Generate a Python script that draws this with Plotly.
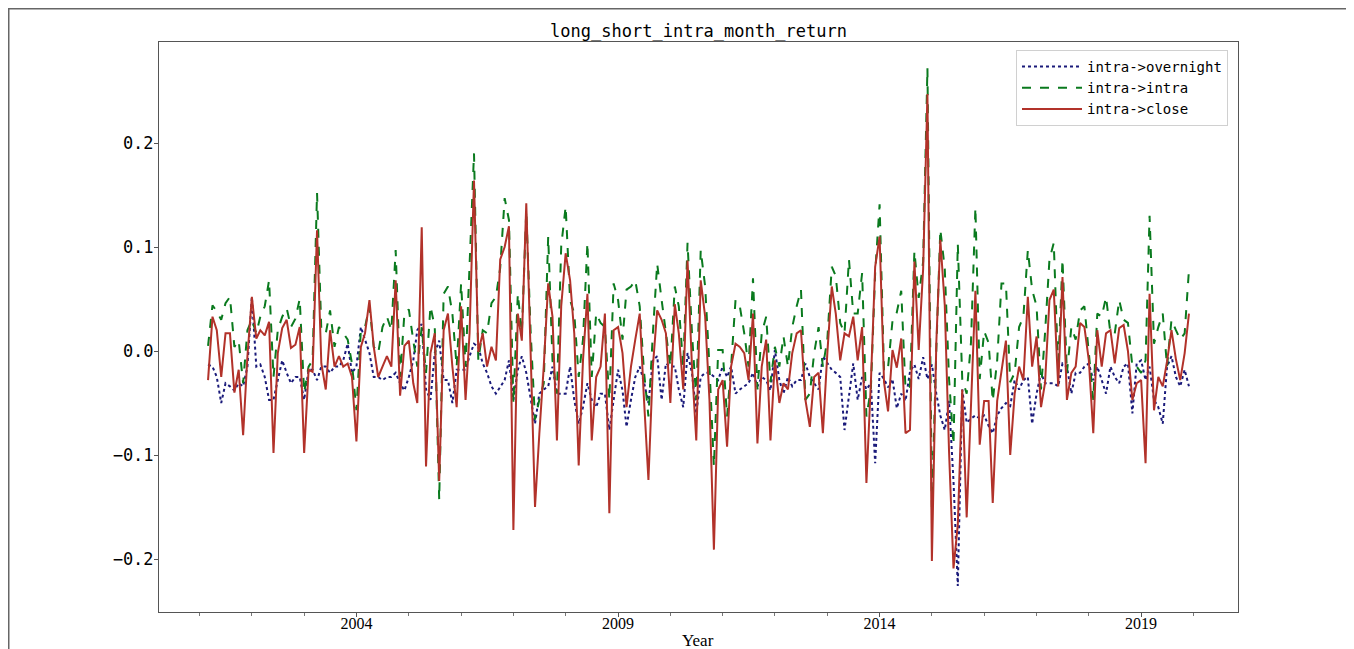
import pandas as pd
import plotly.graph_objects as go

# ---------------- data (monthly, Mar-2001 .. Dec-2019) ----------------
start_month = "2001-03-01"

overnight = [
 -0.013,-0.015,-0.025,-0.050,-0.031,-0.034,-0.038,-0.031,-0.034,-0.015,
  0.052,-0.015,-0.013,-0.025,-0.047,-0.047,-0.028,-0.009,-0.021,-0.031,
 -0.025,-0.025,-0.047,-0.018,-0.018,-0.028,-0.015,-0.015,-0.021,-0.015,
 -0.015,-0.009, 0.007,-0.021,-0.015, 0.023, 0.011,-0.002,-0.025,-0.025,
 -0.028,-0.025,-0.025,-0.021,-0.031,-0.038,-0.025,-0.009, 0.020, 0.026,
 -0.037,-0.047,-0.002, 0.010,-0.028,-0.028,-0.050,-0.018,-0.018,-0.018,
 -0.005, 0.007, 0.004,-0.012,-0.021,-0.034,-0.041,-0.034,-0.028,-0.009,
 -0.047,-0.018,-0.005,-0.021,-0.047,-0.070,-0.041,-0.037,-0.034,-0.015,
 -0.041,-0.041,-0.041,-0.015,-0.047,-0.070,-0.054,-0.031,-0.047,-0.054,
 -0.041,-0.041,-0.076,-0.047,-0.018,-0.038,-0.073,-0.047,-0.025,-0.015,
 -0.030,-0.050,-0.009,-0.005,-0.047,-0.012,-0.015,-0.015,-0.037,-0.054,
 -0.002,-0.021,-0.060,-0.025,-0.021,-0.021,-0.025,-0.028,-0.015,-0.025,
 -0.015,-0.041,-0.037,-0.034,-0.031,-0.021,-0.034,-0.025,-0.028,-0.038,
  0.001,-0.028,-0.041,-0.025,-0.034,-0.028,-0.028,-0.012,-0.025,-0.031,
 -0.037,-0.005,-0.012,-0.018,-0.021,-0.025,-0.076,-0.041,-0.012,-0.047,
 -0.025,-0.037,-0.031,-0.108,-0.021,-0.027,-0.035,-0.027,-0.055,-0.041,
 -0.048,-0.020,-0.013,-0.027,-0.006,-0.027,-0.013,-0.041,-0.062,-0.076,
 -0.048,-0.125,-0.226,-0.037,-0.069,-0.065,-0.062,-0.065,-0.062,-0.072,
 -0.079,-0.062,-0.055,-0.050,-0.053,-0.028,-0.037,-0.028,-0.025,-0.070,
 -0.041,-0.021,-0.031,-0.031,-0.031,-0.034,-0.012,-0.015,-0.041,-0.021,
 -0.021,-0.015,-0.012,-0.028,-0.015,-0.028,-0.041,-0.015,-0.025,-0.031,
 -0.015,-0.012,-0.060,-0.012,-0.009,-0.028,-0.015,-0.047,-0.054,-0.070,
 -0.015,-0.005,-0.025,-0.034,-0.018,-0.034,
]

intra = [
  0.005, 0.044, 0.038, 0.030, 0.046, 0.052, 0.004, 0.010,-0.031, 0.020,
  0.030, 0.017, 0.033, 0.043, 0.068,-0.025, 0.020, 0.033, 0.041, 0.023,
  0.031, 0.050,-0.040,-0.015,-0.009, 0.152, 0.020, 0.017, 0.039, 0.004,
  0.023, 0.017, 0.011,-0.012,-0.057, 0.020, 0.023, 0.043, 0.004,-0.002,
  0.023, 0.033, 0.020, 0.097,-0.025, 0.036, 0.040, 0.010,-0.015, 0.023,
 -0.021, 0.043, 0.023,-0.143, 0.055, 0.062, 0.036,-0.015, 0.065,-0.015,
  0.080, 0.190,-0.009, 0.020, 0.017, 0.046, 0.052, 0.080, 0.147, 0.126,
 -0.050, 0.055, 0.017, 0.135, 0.020,-0.066,-0.047,-0.031, 0.110,-0.009,
 -0.041, 0.101, 0.139, 0.049, 0.036,-0.025, 0.011, 0.104,-0.025, 0.036,
  0.027, 0.023,-0.047, 0.065, 0.049, 0.011, 0.059, 0.062, 0.068, 0.043,
 -0.020,-0.063, 0.017, 0.084, 0.049, 0.020,-0.015, 0.062, 0.043,-0.015,
  0.104, 0.017,-0.047, 0.097, 0.062,-0.015,-0.111, 0.001, 0.001,-0.063,
 -0.015, 0.049, 0.043, 0.017,-0.015, 0.070,-0.037, 0.017, 0.033,-0.030,
  0.004,-0.015, 0.014,-0.015, 0.023, 0.043, 0.059,-0.047,-0.041,-0.002,
  0.023,-0.015, 0.011, 0.081, 0.072, 0.027, 0.017, 0.088, 0.036, 0.036,
  0.075,-0.063,-0.037, 0.075, 0.141,-0.020,-0.016, 0.029, 0.037, 0.058,
 -0.037,-0.034, 0.096, 0.051, 0.086, 0.272,-0.150, 0.001, 0.117, 0.079,
 -0.027,-0.090, 0.103,-0.027,-0.041, 0.008, 0.138,-0.027, 0.019, 0.008,
 -0.048,-0.009, 0.065, 0.065,-0.030,-0.021, 0.023, 0.033, 0.097, 0.059,
  0.043,-0.037, 0.017, 0.088, 0.104,-0.018, 0.088,-0.021, 0.023, 0.011,
  0.039, 0.043,-0.002,-0.047, 0.036, 0.033, 0.052, 0.017, 0.017, 0.049,
  0.030, 0.027,-0.015,-0.015,-0.021,-0.009, 0.130, 0.007, 0.023, 0.036,
 -0.015, 0.030, 0.020, 0.011, 0.017, 0.078,
]

close = [
 -0.028, 0.033, 0.020,-0.025, 0.017, 0.017,-0.040,-0.018,-0.081,-0.005,
  0.052, 0.012, 0.020, 0.015, 0.028,-0.098,-0.002, 0.022, 0.030, 0.003,
  0.006, 0.023,-0.098,-0.018,-0.020, 0.116,-0.012,-0.037, 0.020,-0.015,
 -0.005,-0.015,-0.012,-0.025,-0.087, 0.004, 0.017, 0.049, 0.004,-0.025,
 -0.015,-0.005,-0.015, 0.068,-0.043, 0.005, 0.010,-0.031,-0.050, 0.119,
 -0.111,-0.002, 0.017,-0.125, 0.020, 0.036,-0.015,-0.054, 0.043,-0.047,
  0.017, 0.164,-0.001, 0.017,-0.015, 0.004,-0.009, 0.088, 0.100, 0.120,
 -0.172, 0.036, 0.010, 0.142, 0.000,-0.150,-0.080,-0.015, 0.065, 0.033,
 -0.086, 0.043, 0.094, 0.068, 0.017,-0.110,-0.009, 0.055,-0.086,-0.025,
 -0.015, 0.036,-0.156, 0.020, 0.023,-0.002,-0.054,-0.015, 0.011, 0.036,
 -0.047,-0.124,-0.015, 0.039, 0.030, 0.017,-0.050, 0.045, 0.017,-0.037,
  0.087,-0.015,-0.086, 0.068, 0.033,-0.047,-0.191,-0.037,-0.028,-0.092,
 -0.015, 0.007, 0.004,-0.002,-0.028, 0.036,-0.089,-0.015, 0.011,-0.086,
 -0.009,-0.050,-0.031,-0.037,-0.002, 0.017, 0.020,-0.047,-0.073,-0.025,
 -0.021,-0.079,-0.002, 0.062, 0.036,-0.009, 0.017, 0.014, 0.033,-0.009,
  0.023,-0.127,-0.031, 0.081, 0.110,-0.030,-0.058, 0.001,-0.016, 0.012,
 -0.079,-0.076, 0.086, 0.001, 0.079, 0.247,-0.202, 0.008, 0.107, 0.044,
 -0.097,-0.209,-0.167,-0.037,-0.160,-0.048, 0.058,-0.090,-0.048,-0.048,
 -0.146,-0.048,-0.020, 0.010,-0.100,-0.041,-0.015,-0.028, 0.052,-0.015,
  0.014,-0.054,-0.031, 0.049, 0.059,-0.034, 0.071,-0.047,-0.021,-0.015,
  0.027, 0.023,-0.009,-0.079, 0.020,-0.015, 0.017, 0.020,-0.012, 0.022,
  0.025, 0.000,-0.047,-0.031,-0.028,-0.108, 0.055,-0.057,-0.025,-0.034,
 -0.010, 0.020,-0.008,-0.028,-0.002, 0.036,
]

series_names = ["intra->overnight", "intra->intra", "intra->close"]
y_tick_vals = [-0.2, -0.1, 0.0, 0.1, 0.2]
y_tick_text = ["\u22120.2", "\u22120.1", "0.0", "0.1", "0.2"]
x_tick_years = [2004, 2009, 2014, 2019]

# ---------------- figure ----------------
dates = pd.date_range(start_month, periods=len(close), freq="MS")
span = dates[-1] - dates[0]
x_range = [dates[0] - span * 0.05, dates[-1] + span * 0.05]

MONO = "DejaVu Sans Mono"
fig = go.Figure()
styles = [
    dict(color="#1a1a7a", dash="dot", width=2),
    dict(color="#0a7a1e", dash="dash", width=2),
    dict(color="#b2322a", dash="solid", width=2),
]
for name, vals, st in zip(series_names, [overnight, intra, close], styles):
    fig.add_trace(go.Scatter(x=dates, y=vals, mode="lines", name=name, line=st))

# the page body adds an 8 px offset, so figure coordinates = page coordinates - 8
W, H = 1346, 641
L, R, T, B = 151, 1230, 34, 604
ZERO = 343            # pixel row of y = 0
PX_PER_UNIT = 1040    # pixels per 1.0 of y
fig.update_layout(
    width=W, height=H,
    margin=dict(l=L, r=W - R, t=T, b=H - B, autoexpand=False),
    paper_bgcolor="white", plot_bgcolor="white",
    title=dict(text="long_short_intra_month_return", x=(L + R) / 2 / W, xanchor="center",
               y=1 - 23 / H, yanchor="middle", font=dict(family=MONO, size=17, color="black")),
    showlegend=True,
    legend=dict(x=(1220 - L) / (R - L), y=(B - 42) / (B - T), xanchor="right", yanchor="top",
                bgcolor="rgba(255,255,255,0.9)", bordercolor="#d0d0d0", borderwidth=1,
                font=dict(family=MONO, size=14, color="black"), itemwidth=60, tracegroupgap=2),
)
fig.update_xaxes(
    range=x_range, showgrid=False, zeroline=False,
    showline=True, linecolor="#555", linewidth=1, mirror=True,
    tickvals=[pd.Timestamp(f"{y}-01-01") for y in x_tick_years],
    ticktext=[str(y) for y in x_tick_years],
    ticks="outside", ticklen=4, tickcolor="#555", ticklabelstandoff=-7,
    minor=dict(dtick="M12", tick0="2001-01-01", ticks="outside", ticklen=3, tickcolor="#777"),
    tickfont=dict(family="Liberation Serif", size=16, color="black"),
)
fig.update_yaxes(
    range=[-(B - ZERO) / PX_PER_UNIT, (ZERO - T) / PX_PER_UNIT], showgrid=False, zeroline=False,
    showline=True, linecolor="#555", linewidth=1, mirror=True,
    tickvals=y_tick_vals, ticktext=y_tick_text,
    ticks="outside", ticklen=4, tickcolor="#555", ticklabelstandoff=-3,
    tickfont=dict(family=MONO, size=17, color="black"),
)
fig.add_annotation(text="Year", xref="paper", yref="paper", x=(690 - L) / (R - L),
                   y=(B - 632) / (B - T), xanchor="center", yanchor="middle", showarrow=False,
                   font=dict(family="Liberation Serif", size=17, color="black"))
# outer image frame
fig.add_shape(type="rect", xref="paper", yref="paper",
              x0=(0.75 - L) / (R - L), x1=(1340 - L) / (R - L),
              y0=(B - 700) / (B - T), y1=(B - 0.75) / (B - T),
              line=dict(color="#666", width=1.5), fillcolor="rgba(0,0,0,0)", layer="below")

fig.write_html("out.html")
